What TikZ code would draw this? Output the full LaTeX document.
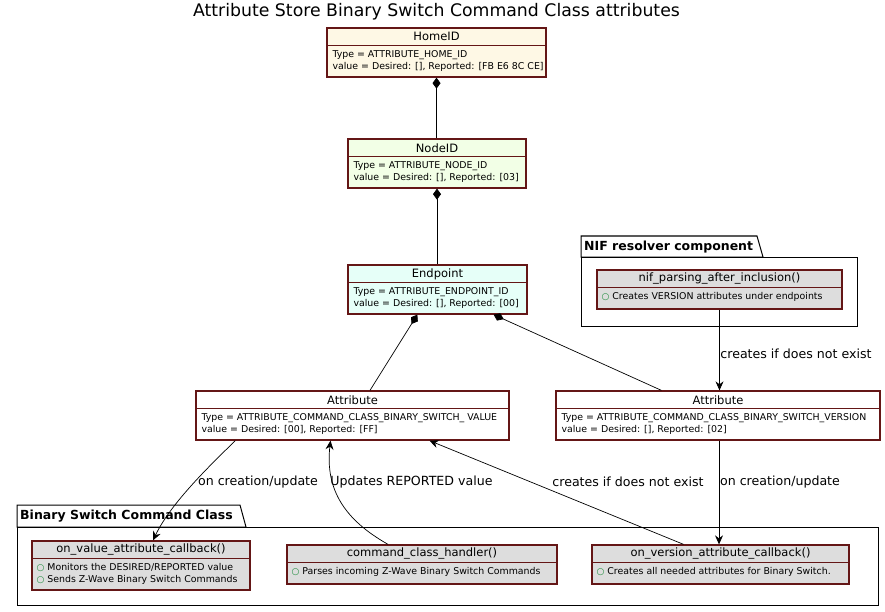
\documentclass[tikz,border=0pt]{standalone}
\usepackage{fontspec}
\setmainfont{DejaVu Sans}
\usetikzlibrary{arrows.meta,calc}
\definecolor{boxred}{RGB}{100,22,22}
\definecolor{homefill}{HTML}{FEF8E5}
\definecolor{nodefill}{HTML}{F2FFE6}
\definecolor{epfill}{HTML}{E6FFF8}
\definecolor{grayfill}{HTML}{DDDDDD}
\definecolor{bulletgreen}{RGB}{30,140,60}
\tikzset{
  x=1pt,y=-1pt,
  umlbox/.style={draw=boxred,line width=1.3pt,rectangle,inner sep=0pt},
  hdr/.style={font=\fontsize{11.5}{13}\selectfont,inner sep=0pt},
  body/.style={font=\fontsize{9.4}{12}\selectfont,inner sep=0pt,align=left,anchor=north west},
  elabel/.style={font=\fontsize{12.6}{14}\selectfont,inner sep=0pt},
  arr/.style={-{Stealth[length=9pt,width=8pt,inset=3pt]},line width=0.7pt},
  comp/.style={{Diamond[length=11pt,width=8pt]}-,line width=0.7pt},
  pkg/.style={draw=black,line width=1pt},
  pkgtitle/.style={font=\bfseries\fontsize{12.5}{14}\selectfont,inner sep=0pt,anchor=west}
}
\newcommand{\bul}{\textcolor{bulletgreen}{\fontsize{9}{10}\selectfont ○}\ }
\begin{document}
\begin{tikzpicture}
\useasboundingbox[fill=white] (0,0) rectangle (885,612);
% title
\node[font=\fontsize{17.3}{20}\selectfont,inner sep=0pt] (title) at (436.5,12) {Attribute Store Binary Switch Command Class attributes};

% packages
\draw[pkg] (581,257) -- (581,236) -- (757,236) -- (763,257) -- cycle;
\draw[pkg] (581,257) rectangle (857,326);
\node[pkgtitle] (niftitle) at (584,247) {NIF resolver component};
\draw[pkg] (17,527) -- (17,505) -- (240,505) -- (246,527) -- cycle;
\draw[pkg] (17,527) rectangle (878,605);
\node[pkgtitle] (bsctitle) at (20,516) {Binary Switch Command Class};

% boxes
\node[umlbox,fill=homefill,minimum width=219pt,minimum height=49pt] (home) at (436.5,52.5) {};
\node[umlbox,fill=nodefill,minimum width=178pt,minimum height=49pt] (node) at (437,163.5) {};
\node[umlbox,fill=epfill,minimum width=179pt,minimum height=49pt] (ep) at (437.5,289.5) {};
\node[umlbox,fill=white,minimum width=313pt,minimum height=49pt] (attrL) at (352.5,415.5) {};
\node[umlbox,fill=white,minimum width=324pt,minimum height=49pt] (attrR) at (718,415.5) {};
\node[umlbox,fill=grayfill,minimum width=245pt,minimum height=39pt] (nif) at (719.5,289.5) {};
\node[umlbox,fill=grayfill,minimum width=218pt,minimum height=49pt] (onval) at (141,565.5) {};
\node[umlbox,fill=grayfill,minimum width=270pt,minimum height=39pt] (cch) at (422,564.5) {};
\node[umlbox,fill=grayfill,minimum width=257pt,minimum height=39pt] (onver) at (720.5,564.5) {};

% separators
\foreach \b in {home,node,ep,attrL,attrR,onval,nif,cch,onver}{
  \draw[boxred,line width=0.8pt] ([yshift=-18.5pt]\b.north west) -- ([yshift=-18.5pt]\b.north east);
}

% headers
\node[hdr] (homeh) at ([yshift=-9.5pt]home.north) {HomeID};
\node[hdr] (nodeh) at ([yshift=-9.5pt]node.north) {NodeID};
\node[hdr] (eph) at ([yshift=-9.5pt]ep.north) {Endpoint};
\node[hdr] (attrLh) at ([yshift=-9.5pt]attrL.north) {Attribute};
\node[hdr] (attrRh) at ([yshift=-9.5pt]attrR.north) {Attribute};
\node[hdr] (nifh) at ([yshift=-9.5pt]nif.north) {nif\_parsing\_after\_inclusion()};
\node[hdr] (onvalh) at ([yshift=-9.5pt]onval.north) {on\_value\_attribute\_callback()};
\node[hdr] (cchh) at ([yshift=-9.5pt]cch.north) {command\_class\_handler()};
\node[hdr] (onverh) at ([yshift=-9.5pt]onver.north) {on\_version\_attribute\_callback()};

% bodies
\node[body] (homeb) at ([xshift=6pt,yshift=-23pt]home.north west) {Type = ATTRIBUTE\_HOME\_ID\\value = Desired: [], Reported: [FB E6 8C CE]};
\node[body] (nodeb) at ([xshift=6pt,yshift=-23pt]node.north west) {Type = ATTRIBUTE\_NODE\_ID\\value = Desired: [], Reported: [03]};
\node[body] (epb) at ([xshift=6pt,yshift=-23pt]ep.north west) {Type = ATTRIBUTE\_ENDPOINT\_ID\\value = Desired: [], Reported: [00]};
\node[body] (attrLb) at ([xshift=6pt,yshift=-23pt]attrL.north west) {Type = ATTRIBUTE\_COMMAND\_CLASS\_BINARY\_SWITCH\_ VALUE\\value = Desired: [00], Reported: [FF]};
\node[body] (attrRb) at ([xshift=6pt,yshift=-23pt]attrR.north west) {Type = ATTRIBUTE\_COMMAND\_CLASS\_BINARY\_SWITCH\_VERSION\\value = Desired: [], Reported: [02]};
\node[body] (nifb) at ([xshift=5pt,yshift=-23pt]nif.north west) {\bul Creates VERSION attributes under endpoints};
\node[body] (onvalb) at ([xshift=5pt,yshift=-23pt]onval.north west) {\bul Monitors the DESIRED/REPORTED value\\\bul Sends Z-Wave Binary Switch Commands};
\node[body] (cchb) at ([xshift=5pt,yshift=-23pt]cch.north west) {\bul Parses incoming Z-Wave Binary Switch Commands};
\node[body] (onverb) at ([xshift=5pt,yshift=-23pt]onver.north west) {\bul Creates all needed attributes for Binary Switch.};

% composition connectors
\draw[comp] (home.south) -- (home.south |- node.north);
\draw[comp] (node.south) -- (node.south |- ep.north);
\draw[comp] ([xshift=70pt]ep.south west) -- ([xshift=17.5pt]attrL.north);
\draw[comp] ([xshift=-34pt]ep.south east) -- ([xshift=106pt]attrR.north west);

% arrows
\draw[arr] (nif.south) -- (nif.south |- attrR.north);
\node[elabel] (l1) at (796,354) {creates if does not exist};
\draw[arr] ([xshift=1pt]attrR.south) -- ([xshift=1pt]attrR.south |- onver.north);
\node[elabel] (l2) at (780,482) {on creation/update};
\draw[arr] ([xshift=40pt]attrL.south west) .. controls (205,470) and (170,505) .. ([xshift=12pt]onval.north);
\node[elabel] (l3) at (258,482) {on creation/update};
\draw[arr] ([xshift=-34pt]cch.north) .. controls (345,520) and (325,490) .. ([xshift=-22pt]attrL.south);
\node[elabel] (l4) at (411.5,482) {Updates REPORTED value};
\draw[arr] ([xshift=-37pt]onver.north) -- ([xshift=77pt]attrL.south);
\node[elabel] (l5) at (628,482) {creates if does not exist};
\end{tikzpicture}
\end{document}
